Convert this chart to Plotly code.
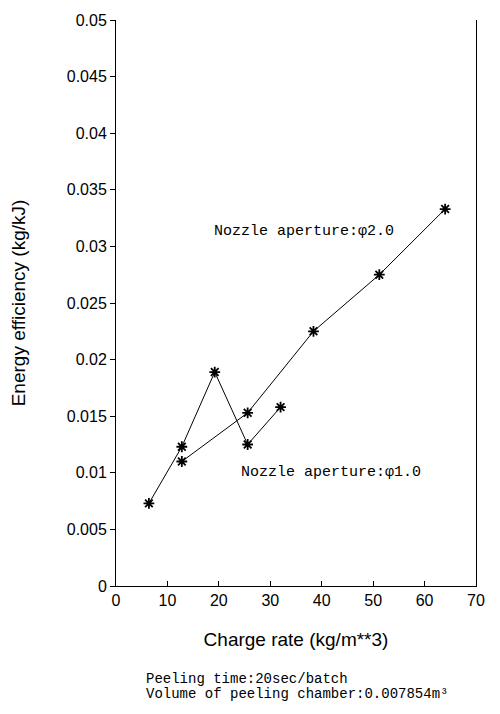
import plotly.graph_objects as go

# Data
charge_phi10 = [6.4, 12.8, 19.2, 25.6, 32.0]
eff_phi10 = [0.0073, 0.0123, 0.0189, 0.0125, 0.0158]
charge_phi20 = [12.8, 25.6, 38.4, 51.2, 64.0]
eff_phi20 = [0.0110, 0.0153, 0.0225, 0.0275, 0.0333]

y_tickvals = [0, 0.005, 0.01, 0.015, 0.02, 0.025, 0.03, 0.035, 0.04, 0.045, 0.05]
y_ticktext = ["0", "0.005", "0.01", "0.015", "0.02", "0.025", "0.03", "0.035", "0.04", "0.045", "0.05"]
x_tickvals = [0, 10, 20, 30, 40, 50, 60, 70]

mono = "Liberation Mono, Courier New, monospace"
sans = "Liberation Sans, Arial, sans-serif"

fig = go.Figure()
for xs, ys in [(charge_phi10, eff_phi10), (charge_phi20, eff_phi20)]:
    fig.add_trace(go.Scatter(
        x=xs, y=ys, mode="lines+markers",
        line=dict(color="black", width=1),
        marker=dict(symbol="asterisk-open", size=9, color="black",
                    line=dict(color="black", width=1.8)),
        showlegend=False, cliponaxis=False,
    ))

# page body has an 8px margin; plot area spans x 116..476, y 12..586 in the window
W, H = 484, 698
L, R, T, B = 108, 16, 4, 120
PW, PH = W - L - R, H - T - B

fig.update_layout(
    width=W, height=H,
    margin=dict(l=L, r=R, t=T, b=B),
    paper_bgcolor="white", plot_bgcolor="white",
    font=dict(family=sans, color="black"),
    xaxis=dict(range=[0, 70], tickvals=x_tickvals, ticks="inside", ticklen=5,
               tickcolor="black", showline=True, linecolor="black", linewidth=1,
               showgrid=False, zeroline=False, ticklabeloverflow="allow",
               tickfont=dict(size=16, family=sans),
               title=dict(text="Charge rate (kg/m**3)", font=dict(size=19, family=sans), standoff=24)),
    yaxis=dict(range=[0, 0.05], tickvals=y_tickvals, ticktext=y_ticktext,
               ticks="outside", ticklen=5, tickcolor="black",
               showline=True, linecolor="black", linewidth=1, mirror=True,
               showgrid=False, zeroline=False, ticklabeloverflow="allow",
               tickfont=dict(size=16, family=sans),
               title=dict(text="Energy efficiency (kg/kJ)", font=dict(size=19, family=sans), standoff=36)),
)

fig.add_annotation(x=18.6, y=0.0313, xref="x", yref="y", xanchor="left", yanchor="middle",
                   text="Nozzle aperture:φ2.0", showarrow=False,
                   font=dict(family=mono, size=15, color="black"))
fig.add_annotation(x=24.0, y=0.0100, xref="x", yref="y", xanchor="left", yanchor="middle",
                   text="Nozzle aperture:φ1.0", showarrow=False,
                   font=dict(family=mono, size=15, color="black"))


def below(px_x, px_y):
    # convert window pixel position to paper coords
    return (px_x - 8 - L) / PW, -(px_y - 8 - (T + PH)) / PH


x0, y0 = below(144, 680)
fig.add_annotation(x=x0, y=y0, xref="paper", yref="paper",
                   xanchor="left", yanchor="middle", showarrow=False,
                   text="Peeling time:20sec/batch",
                   font=dict(family=mono, size=14, color="black"))
x1, y1 = below(144, 696)
fig.add_annotation(x=x1, y=y1, xref="paper", yref="paper",
                   xanchor="left", yanchor="middle", showarrow=False,
                   text="Volume of peeling chamber:0.007854m³",
                   font=dict(family=mono, size=14, color="black"))

fig.write_html("out.html")
